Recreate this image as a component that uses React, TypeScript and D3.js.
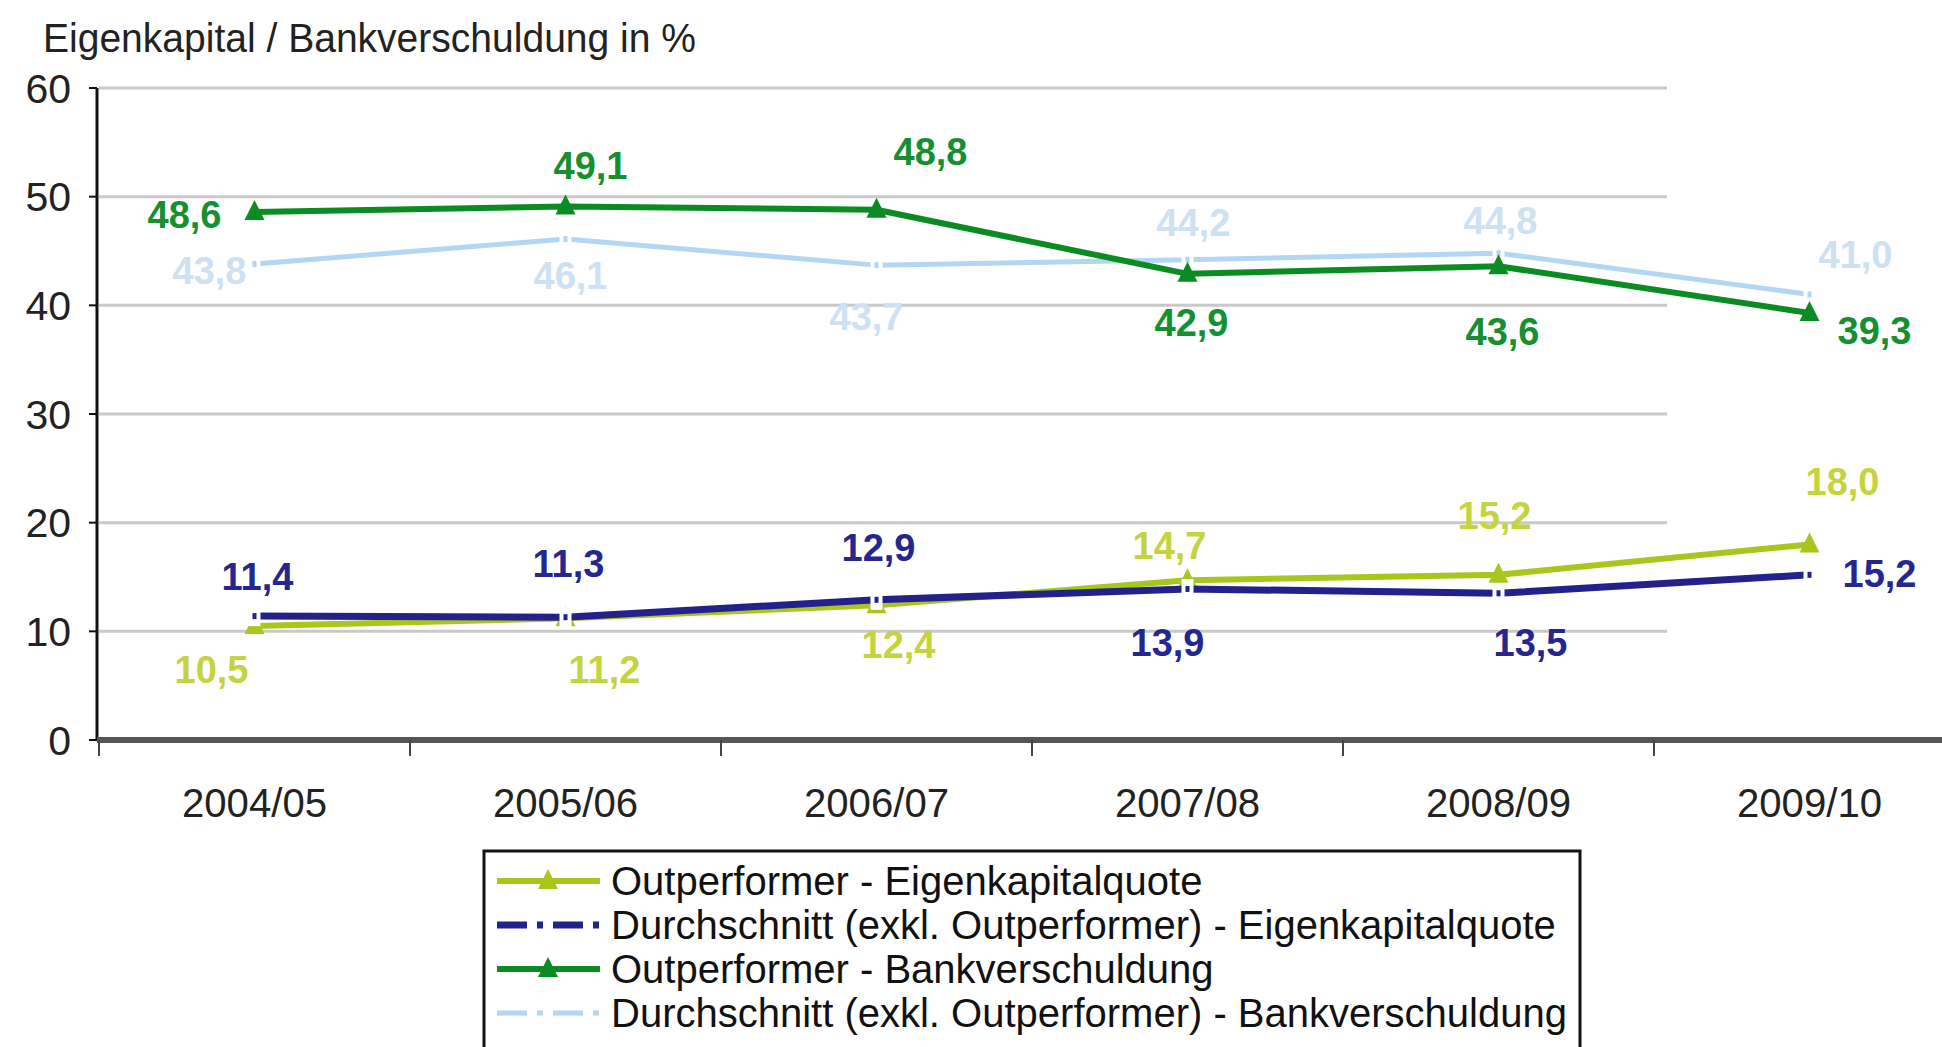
import React from "react";
import * as d3 from "d3";

// categories and values
const years = ["2004/05", "2005/06", "2006/07", "2007/08", "2008/09", "2009/10"];
const outEK = [10.5, 11.2, 12.4, 14.7, 15.2, 18.0];
const avgEK = [11.4, 11.3, 12.9, 13.9, 13.5, 15.2];
const outBank = [48.6, 49.1, 48.8, 42.9, 43.6, 39.3];
const avgBank = [43.8, 46.1, 43.7, 44.2, 44.8, 41.0];
const yTicks = [0, 10, 20, 30, 40, 50, 60];

const W = 1942;
const H = 1047;
const fmt = (v: number) => v.toFixed(1).replace(".", ",");

const x = d3.scaleBand<string>().domain(years).range([99, 99 + 6 * 311]).padding(0);
const y = d3.scaleLinear().domain([0, 60]).range([740, 88]);
const cx = (i: number) => (x(years[i]) as number) + x.bandwidth() / 2;

const lineGen = d3
  .line<number>()
  .x((_, i) => cx(i))
  .y((d) => y(d));

type Series = {
  name: string;
  values: number[];
  color: string;
  labelColor: string;
  width: number;
  marker: "triangle" | "dash";
  offsets: [number, number][]; // label offset from point
};

const series: Series[] = [
  {
    name: "Durchschnitt (exkl. Outperformer) - Bankverschuldung",
    values: avgBank,
    color: "#b2d6f4",
    labelColor: "#cde1f2",
    width: 5,
    marker: "dash",
    offsets: [[-45, 6], [5, 36], [-10, 51], [6, -37], [2, -33], [46, -40]],
  },
  {
    name: "Outperformer - Bankverschuldung",
    values: outBank,
    color: "#0b8c22",
    labelColor: "#149030",
    width: 6,
    marker: "triangle",
    offsets: [[-70, 2], [25, -41], [54, -58], [4, 48], [4, 65], [65, 17]],
  },
  {
    name: "Outperformer - Eigenkapitalquote",
    values: outEK,
    color: "#a7c71c",
    labelColor: "#c4d43e",
    width: 6,
    marker: "triangle",
    offsets: [[-43, 43], [39, 51], [22, 39], [-18, -35], [-4, -60], [33, -63]],
  },
  {
    name: "Durchschnitt (exkl. Outperformer) - Eigenkapitalquote",
    values: avgEK,
    color: "#22228a",
    labelColor: "#262690",
    width: 7,
    marker: "dash",
    offsets: [[3, -40], [3, -54], [2, -53], [-20, 53], [32, 49], [70, -2]],
  },
];

const legendOrder = [2, 3, 1, 0];

function Marker({ s, px, py }: { s: Series; px: number; py: number }) {
  if (s.marker === "triangle") {
    const r = 10;
    return (
      <path
        d={`M${px},${py - r - 2} L${px + r},${py + r - 2} L${px - r},${py + r - 2} Z`}
        fill={s.color}
      />
    );
  }
  return (
    <g>
      <rect x={px - 6} y={py - 10} width={12} height={20} fill="#fff" />
      <rect x={px - 2} y={py - 3} width={4} height={6} fill={s.color} />
    </g>
  );
}

export default function App() {
  const font = "'Liberation Sans', Arial, sans-serif";
  return (
    <svg
      width={W}
      height={H}
      style={{ position: "absolute", left: 0, top: 0, background: "#fff" }}
      fontFamily={font}
    >
      <rect width={W} height={H} fill="#fff" />
      <text x={43} y={52} fontSize={40} fill="#222" textLength={653} lengthAdjust="spacingAndGlyphs">
        Eigenkapital / Bankverschuldung in %
      </text>

      {/* gridlines */}
      {yTicks.filter((t) => t > 0).map((t) => (
        <line key={t} x1={99} x2={1667} y1={y(t)} y2={y(t)} stroke="#c9c9c9" strokeWidth={3} />
      ))}

      {/* y axis */}
      <line x1={97} x2={97} y1={y(60)} y2={y(0)} stroke="#111" strokeWidth={3} />
      {yTicks.map((t) => (
        <g key={t}>
          <line x1={89} x2={97} y1={y(t)} y2={y(t)} stroke="#111" strokeWidth={2} />
          <text x={71} y={y(t)} dy="0.36em" textAnchor="end" fontSize={41} fill="#222">
            {t}
          </text>
        </g>
      ))}

      {/* x axis */}
      <line x1={97} x2={W} y1={y(0)} y2={y(0)} stroke="#555" strokeWidth={6} />
      {years.map((c) => (
        <line
          key={c}
          x1={x(c) as number}
          x2={x(c) as number}
          y1={y(0)}
          y2={y(0) + 16}
          stroke="#444"
          strokeWidth={2}
        />
      ))}
      {years.map((c, i) => (
        <text key={c} x={cx(i)} y={817} textAnchor="middle" fontSize={40} fill="#222" textLength={145} lengthAdjust="spacingAndGlyphs">
          {c}
        </text>
      ))}

      {/* series */}
      {series.map((s) => (
        <g key={s.name}>
          <path d={lineGen(s.values) as string} fill="none" stroke={s.color} strokeWidth={s.width} strokeLinejoin="round" />
          {s.values.map((v, i) => (
            <Marker key={i} s={s} px={cx(i)} py={y(v)} />
          ))}
        </g>
      ))}
      {series.map((s) =>
        s.values.map((v, i) => (
          <text
            key={s.name + i}
            x={cx(i) + s.offsets[i][0]}
            y={y(v) + s.offsets[i][1]}
            dy="0.36em"
            textAnchor="middle"
            fontSize={38}
            fontWeight="bold"
            fill={s.labelColor}
          >
            {fmt(v)}
          </text>
        ))
      )}

      {/* legend */}
      <rect x={484} y={851} width={1096} height={230} fill="#fff" stroke="#111" strokeWidth={3} />
      {legendOrder.map((si, row) => {
        const s = series[si];
        const ly = 881 + row * 44;
        const isDash = s.marker === "dash";
        return (
          <g key={s.name}>
            <line
              x1={497}
              x2={600}
              y1={ly}
              y2={ly}
              stroke={s.color}
              strokeWidth={s.width}
              strokeDasharray={isDash ? "30 10 6 10" : undefined}
            />
            {!isDash && <Marker s={s} px={548} py={ly} />}
            <text x={611} y={ly} dy="0.36em" fontSize={40} fill="#111">
              {s.name}
            </text>
          </g>
        );
      })}
    </svg>
  );
}
